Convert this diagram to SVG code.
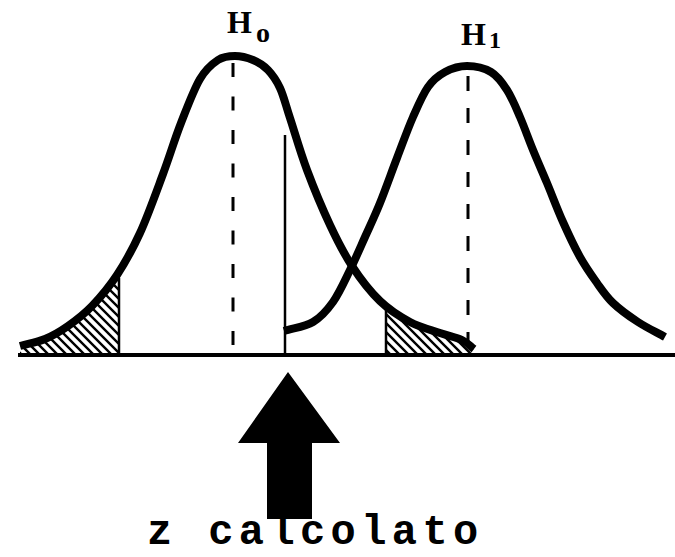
<svg xmlns="http://www.w3.org/2000/svg" width="675" height="557" viewBox="0 0 675 557">
<style>
.curve{fill:none;stroke:#000;stroke-width:8;stroke-linejoin:round;stroke-linecap:butt}
.dash{fill:none;stroke:#000;stroke-width:3}
.thin{fill:none;stroke:#000;stroke-width:2.5}
.hatch{fill:url(#hatch);stroke:none}
.lbl{font-family:"Liberation Serif",serif;font-weight:bold;fill:#000}
.txt{font-family:"Liberation Mono","DejaVu Sans Mono",monospace;font-weight:bold;fill:#000}
</style>
<defs>
<pattern id="hatch" patternUnits="userSpaceOnUse" width="9" height="9">
<path d="M0,0 L9,9 M-3,6 L3,12 M6,-3 L12,3" stroke="#000" stroke-width="2.4"/>
</pattern>
</defs>
<rect width="675" height="557" fill="#fff"/>
<g id="shading">
<path class="hatch" d="M20,346 C28.3,343.7 37,342.3 45,339 C53,335.7 60.2,331.5 68,326 C75.8,320.5 83.8,314.5 92,306 C100.2,297.5 109,287.2 117,275 L119,272 L119,355 L20,355 Z"/>
<path class="hatch" d="M386,305 C393,311 401,317.5 410,322 C420,327.3 431.3,330 440,333 C448.7,336 456.3,337.3 462,340 C467.7,342.7 470,346 474,349 L474,355 L386,355 Z"/>
<line class="thin" x1="119" y1="278" x2="119" y2="355"/>
<line class="thin" x1="386" y1="306" x2="386" y2="355"/>
</g>
<g id="axis">
<line x1="18" y1="355" x2="675" y2="355" stroke="#000" stroke-width="4"/>
</g>
<g id="h0">
<path class="curve" d="M20,346 C28.3,343.7 37,342.3 45,339 C53,335.7 60.2,331.5 68,326 C75.8,320.5 83.8,314.5 92,306 C100.2,297.5 109,287.2 117,275 C125,262.8 132.3,249.8 140,233 C147.7,216.2 156.2,192.3 163,174 C169.8,155.7 174.8,138.8 181,123 C187.2,107.2 193.8,89.5 200,79 C206.2,68.5 212.2,63.8 218,60 C223.8,56.2 229.2,56 235,56 C240.8,56 247.5,57.7 253,60 C258.5,62.3 263.5,65.3 268,70 C272.5,74.7 276.3,80 280,88 C283.7,96 285.5,104.3 290,118 C294.5,131.7 300.3,152.2 307,170 C313.7,187.8 322.5,209 330,225 C337.5,241 343.7,253.3 352,266 C360.3,278.7 370.3,291.7 380,301 C389.7,310.3 400,316.7 410,322 C420,327.3 431.3,330 440,333 C448.7,336 456.3,337.3 462,340 C467.7,342.7 470,346 474,349"/>
<line class="dash" x1="233" y1="63" x2="233" y2="352" stroke-dasharray="14 19.5"/>
<text class="lbl" x="227" y="33" font-size="32">H</text>
<text class="lbl" x="256" y="42" font-size="28">o</text>
</g>
<g id="h1">
<path class="curve" d="M284,331 C293.7,328 304.8,326.8 313,322 C321.2,317.2 326.8,310.7 333,302 C339.2,293.3 344.7,280.8 350,270 C355.3,259.2 360,248.2 365,237 C370,225.8 374.7,216.2 380,203 C385.3,189.8 391.5,172.3 397,158 C402.5,143.7 407.8,128.8 413,117 C418.2,105.2 422.7,94.5 428,87 C433.3,79.5 438.5,75.5 445,72 C451.5,68.5 459.3,66 467,66 C474.7,66 484.3,68 491,72 C497.7,76 502.2,82.5 507,90 C511.8,97.5 515.7,107 520,117 C524.3,127 528.5,139 533,150 C537.5,161 542,171 547,183 C552,195 557.5,209.7 563,222 C568.5,234.3 574.3,246.8 580,257 C585.7,267.2 591.5,275.3 597,283 C602.5,290.7 606.2,296.5 613,303 C619.8,309.5 629.3,316.3 638,322 C646.7,327.7 656,332 665,337"/>
<line class="dash" x1="468" y1="76" x2="468" y2="352" stroke-dasharray="15 17"/>
<text class="lbl" x="461" y="45" font-size="32">H</text>
<text class="lbl" x="489" y="48" font-size="24">1</text>
</g>
<g id="z-line">
<line class="thin" x1="285" y1="135" x2="285" y2="355"/>
</g>
<g id="connectors">
<polygon points="288,372 238,443 267,443 267,519 312,519 312,443 340,443" fill="#000"/>
</g>
<g id="z-label">
<text class="txt" x="147" y="544" font-size="42" letter-spacing="5.4">z calcolato</text>
</g>
</svg>
